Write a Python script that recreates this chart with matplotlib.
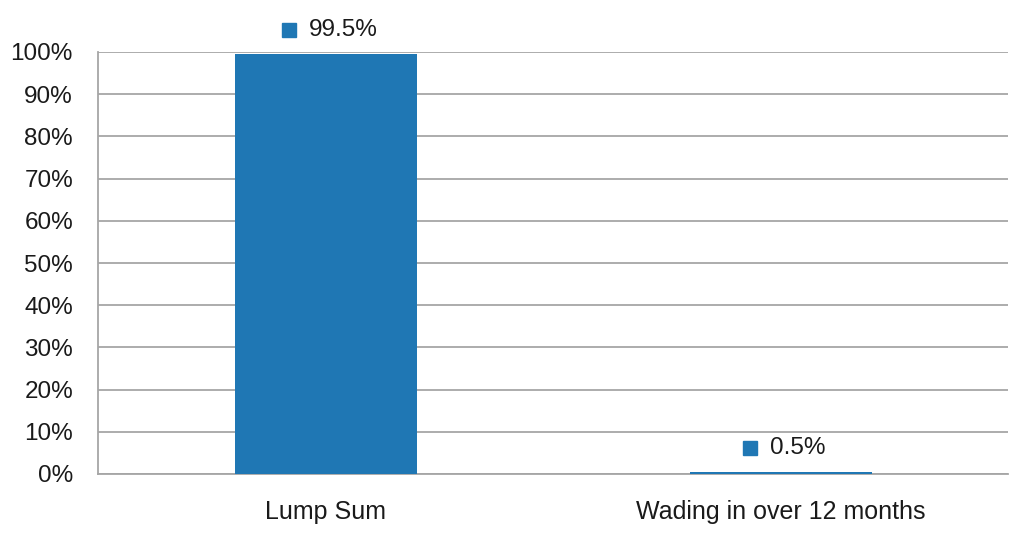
import numpy as np
import matplotlib
matplotlib.use("Agg")
import matplotlib.pyplot as plt
from matplotlib.transforms import ScaledTranslation

# data
categories = ["Lump Sum", "Wading in over 12 months"]
shares = [99.5, 0.5]
labels = ["99.5%", "0.5%"]
yticks = [0, 10, 20, 30, 40, 50, 60, 70, 80, 90, 100]

blue = "#1f77b4"
grey = "#a6a6a6"
ink = "#1a1a1a"
plt.rcParams['font.family'] = ['Liberation Sans', 'DejaVu Sans']

fig = plt.figure(figsize=(10.24, 5.44), dpi=100)
ax = fig.add_axes([98/1024, 1 - 474/544, 910/1024, 422/544])

x = np.arange(len(categories))
ax.bar(x, shares, width=0.4, color=blue, zorder=3)

ax.set_xlim(-0.5, 1.5)
ax.set_ylim(0, 100)
ax.set_yticks(yticks)
ax.set_yticklabels([f"{t}%" for t in yticks], fontsize=17.5, color=ink)
ax.set_xticks(x)
ax.set_xticklabels(categories, fontsize=18, color=ink)
ax.tick_params(axis="both", length=0)
ax.tick_params(axis="y", pad=18)
ax.tick_params(axis="x", pad=19)
ax.grid(axis="y", color=grey, linewidth=1.3, zorder=0)

for s in ["top", "right"]:
    ax.spines[s].set_visible(False)
for s in ["left", "bottom"]:
    ax.spines[s].set_color(grey)
    ax.spines[s].set_linewidth(1.3)

# data labels with a small legend key in front
fig.canvas.draw()
rend = fig.canvas.get_renderer()
for xi, v, lab in zip(x, shares, labels):
    txt = ax.annotate(lab, xy=(xi, v), xytext=(0, 24), textcoords="offset pixels",
                      ha="left", va="center", fontsize=17.5, color=ink)
    w = txt.get_window_extent(rend).width
    left = -(14 + 13 + w) / 2 + 4
    txt.xyann = (left + 27, 24)
    ax.plot([xi], [v], marker="s", markersize=10.5, color=blue, linestyle="none",
            transform=ax.transData + ScaledTranslation(
                (left + 7) / 100, 24 / 100, fig.dpi_scale_trans),
            clip_on=False, zorder=4)

fig.savefig("out.png", dpi=100)
